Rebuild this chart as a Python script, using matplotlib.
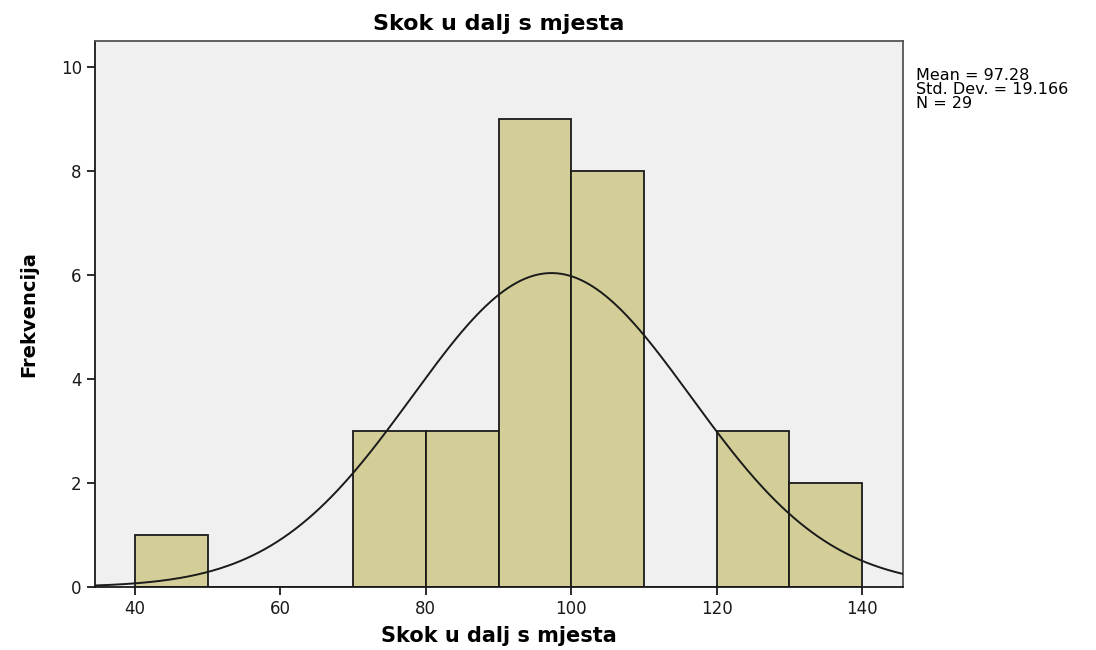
import numpy as np
import matplotlib.pyplot as plt

# histogram data (bin left edges, counts)
bin_left = [40, 50, 60, 70, 80, 90, 100, 110, 120, 130]
counts = [1, 0, 0, 3, 3, 9, 8, 0, 3, 2]
bin_width = 10

mean = 97.28
std = 19.166
n = 29

xmin, xmax = 34.5, 145.6

fig = plt.figure(figsize=(10.96, 6.5), dpi=100)
ax = fig.add_axes([0.0867, 0.097, 0.737, 0.84])
ax.set_facecolor('#F0F0F0')

ax.bar(bin_left, counts, width=bin_width, align='edge',
       color='#D3CE97', edgecolor='#1a1a1a', linewidth=1.3, zorder=2)

# fitted normal curve
xs = np.linspace(xmin, xmax, 400)
ys = n * bin_width / (std * np.sqrt(2 * np.pi)) * np.exp(-0.5 * ((xs - mean) / std) ** 2)
ax.plot(xs, ys, color='#1a1a1a', linewidth=1.4, zorder=3)

ax.set_xlim(xmin, xmax)
ax.set_ylim(0, 10.5)
ax.set_xticks([40, 60, 80, 100, 120, 140])
ax.set_yticks([0, 2, 4, 6, 8, 10])
ax.tick_params(direction='out', length=6, width=1.3, labelsize=12, colors='#1a1a1a')
for s in ax.spines.values():
    s.set_linewidth(1.3)
    s.set_color('#1a1a1a')
ax.spines['top'].set_color('#555555')
ax.spines['right'].set_color('#555555')

ax.set_title('Skok u dalj s mjesta', fontsize=16, fontweight='bold', pad=8)
ax.set_xlabel('Skok u dalj s mjesta', fontsize=15, fontweight='bold', labelpad=6)
ax.set_ylabel('Frekvencija', fontsize=14, fontweight='bold', labelpad=16,
              family=['DejaVu Sans Condensed', 'Liberation Sans Narrow', 'DejaVu Sans'])

fig.text(0.836, 0.895, 'Mean = 97.28\nStd. Dev. = 19.166\nN = 29',
         fontsize=11.5, va='top', ha='left', linespacing=0.9)

fig.savefig('out.png', dpi=100)
